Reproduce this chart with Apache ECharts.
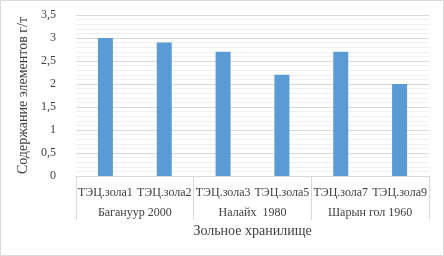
<!DOCTYPE html>
<html><head><meta charset="utf-8">
<script src="https://cdn.jsdelivr.net/npm/echarts@6/dist/echarts.min.js"></script>
<style>html,body{margin:0;padding:0;background:#fff}#c{width:444px;height:256px}</style>
</head><body><div id="c"></div>
<script>
const categories = ['ТЭЦ.зола1','ТЭЦ.зола2','ТЭЦ.зола3','ТЭЦ.зола5','ТЭЦ.зола7','ТЭЦ.зола9'];
const groups = ['Багануур 2000','Налайх  1980','Шарын гол 1960'];
const values = [3.0, 2.9, 2.7, 2.2, 2.7, 2.0];
const yTitle = 'Содержание элементов г/т';
const xTitle = 'Зольное хранилище';

const font = '"Liberation Serif", "Times New Roman", serif';
const chart = echarts.init(document.getElementById('c'));
chart.setOption({
  animation: false,
  textStyle: { fontFamily: font },
  grid: { left: 76, right: 15, top: 15, bottom: 80 },
  graphic: [{ type: 'rect', shape: { x: 0.5, y: 0.5, width: 443, height: 255 }, style: { fill: 'none', stroke: '#d9d9d9', lineWidth: 1 } }],
  xAxis: [{
    type: 'category', data: categories, position: 'bottom',
    axisLine: { show: true, lineStyle: { color: '#d9d9d9' } },
    axisTick: { show: false },
    axisLabel: { color: '#404040', fontSize: 12, fontFamily: font, margin: 11, interval: 0 }
  }, {
    type: 'category', data: groups, position: 'bottom',
    axisLine: { show: false },
    axisTick: { show: true, length: 44, lineStyle: { color: '#d9d9d9' } },
    axisLabel: { color: '#404040', fontSize: 12, fontFamily: font, margin: 31, interval: 0 },
    name: xTitle, nameLocation: 'middle', nameGap: 48,
    nameTextStyle: { color: '#404040', fontSize: 14, fontFamily: font }
  }],
  yAxis: {
    type: 'value', min: 0, max: 3.5, interval: 0.5,
    name: yTitle, nameLocation: 'middle', nameGap: 44, nameRotate: 90,
    nameTextStyle: { color: '#404040', fontSize: 14, fontFamily: font },
    axisLine: { show: false }, axisTick: { show: false },
    axisLabel: { color: '#404040', fontSize: 12, fontFamily: font, margin: 20,
      formatter: v => String(v).replace('.', ',') },
    splitLine: { lineStyle: { color: '#d9d9d9' } },
    minorTick: { show: false, splitNumber: 5 },
    minorSplitLine: { show: true, lineStyle: { color: '#f0f0f0' } }
  },
  series: [{
    type: 'bar', data: values, xAxisIndex: 0, barWidth: 15,
    itemStyle: { color: '#5b9bd5' }
  }]
});
</script></body></html>
